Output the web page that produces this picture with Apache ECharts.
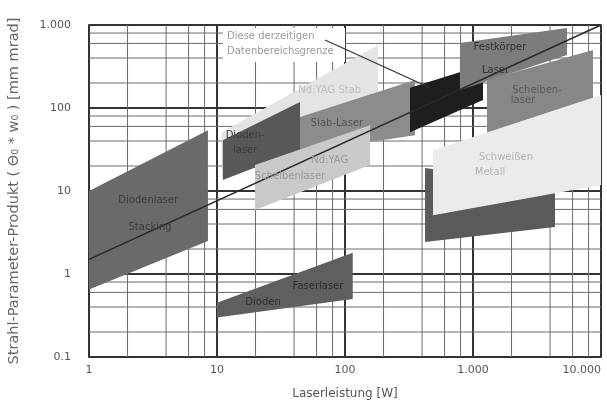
<!DOCTYPE html>
<html>
<head>
<meta charset="utf-8">
<script src="https://cdn.jsdelivr.net/npm/echarts@6/dist/echarts.min.js"></script>
<style>html,body{margin:0;padding:0;background:#fff}#c{width:607px;height:404px}</style>
</head>
<body>
<div id="c"></div>
<script>
// ---- data (values in axis units: x = laser power [W], y = BPP [mm mrad]) ----
const xTickLabels = ['1', '10', '100', '1.000', '10.000'];
const yTickLabels = ['0.1', '1', '10', '100', '1.000'];
const minorMultiples = [2, 4, 6, 8];

const regionDiodeStack   = [[1, 10], [8.5, 54], [8.5, 2.5], [1, 0.65]];
const regionFiberSmall   = [[10, 0.45], [115, 1.8], [115, 0.5], [10, 0.3]];
const regionRodLight     = [[10.9, 51], [181, 574], [181, 94.5], [10.9, 17.9]];
const regionDiodeMid     = [[11.1, 41], [44.5, 118], [44.5, 31], [11.1, 13.6]];
const regionSlab         = [[44.5, 78], [352, 217], [352, 47], [44.5, 29]];
const regionDisk         = [[19.8, 20.6], [157, 62], [157, 20.6], [19.8, 5.9]];
const regionBlack        = [[322, 175], [1197, 330], [1197, 125], [322, 51]];
const regionSolidTop     = [[791, 607], [5420, 920], [5420, 435], [791, 165]];
const regionFiberRight   = [[1286, 217], [8660, 500], [8660, 125], [1286, 45]];
const regionDiodeHigh    = [[422, 18.9], [4372, 11.5], [4372, 3.68], [422, 2.43]];
const regionWeldLight    = [[487, 31], [10000, 143], [10000, 11.8], [487, 5.1]];

const trendLine      = [[1, 1.5], [10000, 1000]];
const annotationLine = [[69.8, 660], [461, 175]];

const labelTexts  = ['Diodenlaser', 'Stacking', 'Dioden', 'Faserlaser', 'Nd:YAG Stab', 'Dioden-', 'laser',
                     'Slab-Laser', 'Nd:YAG', 'Scheibenlaser', 'Festkörper', 'Laser', 'Scheiben-', 'laser',
                     'Schweißen', 'Metall'];
const labelX      = [2.9, 3.0, 22.9, 61.5, 76, 16.6, 16.6, 86.6, 76, 37.2, 1625, 1500, 3162, 2456, 1811, 1358];
const labelY      = [7.8, 3.6, 0.45, 0.7, 165, 47, 31, 66, 23.6, 15.2, 543, 287, 165, 125, 25.7, 16.9];

// ---- styles ----
const regions = [
  {pts: regionDiodeStack, color: '#6a6a6a'},
  {pts: regionFiberSmall, color: '#5f5f5f'},
  {pts: regionRodLight, color: '#e4e4e4'},
  {pts: regionDiodeMid, color: '#585858'},
  {pts: regionSlab, color: '#8c8c8c'},
  {pts: regionDisk, color: '#c9c9c9'},
  {pts: regionBlack, color: '#1e1e1e'},
  {pts: regionSolidTop, color: '#7c7c7c'},
  {pts: regionFiberRight, color: '#878787'},
  {pts: regionDiodeHigh, color: '#5a5a5a'},
  {pts: regionWeldLight, color: '#ebebeb'}
];
const labelColors = ['#3a3a3a', '#3a3a3a', '#2e2e2e', '#2e2e2e', '#bdbdbd', '#3c3c3c', '#3c3c3c',
                     '#555', '#999', '#999', '#333', '#333', '#5a5a5a', '#5a5a5a', '#b3b3b3', '#b3b3b3'];

const xMin = 1, xMax = 10000, yMin = 0.1, yMax = 1000;
const xMinor = [], yMinor = [];
for (let d = xMin; d < xMax; d *= 10) minorMultiples.forEach(m => xMinor.push(d * m));
for (let d = yMin; d < yMax * 0.99; d *= 10) minorMultiples.forEach(m => yMinor.push(+(d * m).toPrecision(3)));

const font = '"DejaVu Sans", "Liberation Sans", Arial, sans-serif';
const chart = echarts.init(document.getElementById('c'));

chart.setOption({
  animation: false,
  backgroundColor: '#fff',
  grid: {left: 89, right: 6, top: 25, bottom: 47, containLabel: false, outerBoundsMode: 'none',
         show: true, borderColor: '#333', borderWidth: 1.5, backgroundColor: 'transparent'},
  xAxis: {
    type: 'log', logBase: 10, min: xMin, max: xMax,
    name: 'Laserleistung [W]', nameLocation: 'middle', nameGap: 31,
    nameTextStyle: {fontFamily: font, fontSize: 12, color: '#555'},
    axisLine: {lineStyle: {color: '#333', width: 1.5}},
    axisTick: {show: false},
    axisLabel: {fontFamily: font, fontSize: 11, color: '#555', margin: 8, alignMaxLabel: 'right',
      formatter: v => xTickLabels[Math.round(Math.log10(v))]},
    splitLine: {show: true, lineStyle: {color: '#333', width: 2}}
  },
  yAxis: {
    type: 'log', logBase: 10, min: yMin, max: yMax,
    name: 'Strahl-Parameter-Produkt ( Θ₀ * w₀ ) [mm mrad]', nameLocation: 'middle', nameGap: 67,
    nameTextStyle: {fontFamily: font, fontSize: 14.5, color: '#666'},
    axisLine: {lineStyle: {color: '#333', width: 1.5}},
    axisTick: {show: false},
    axisLabel: {fontFamily: font, fontSize: 11, color: '#555', margin: 18,
      formatter: v => yTickLabels[Math.round(Math.log10(v)) + 1]},
    splitLine: {show: true, lineStyle: {color: '#333', width: 2}}
  },
  series: [
    {
      type: 'custom', z: 1, silent: true,
      data: xMinor.map(v => [v]),
      renderItem: (params, api) => {
        const p1 = api.coord([api.value(0), yMin]);
        const p2 = api.coord([api.value(0), yMax]);
        return {type: 'line', shape: {x1: p1[0], y1: p1[1], x2: p2[0], y2: p2[1]},
                style: {stroke: '#6a6a6a', lineWidth: 1}};
      }
    },
    {
      type: 'custom', z: 1, silent: true,
      data: yMinor.map(v => [xMin, v]),
      renderItem: (params, api) => {
        const p1 = api.coord([xMin, api.value(1)]);
        const p2 = api.coord([xMax, api.value(1)]);
        return {type: 'line', shape: {x1: p1[0], y1: p1[1], x2: p2[0], y2: p2[1]},
                style: {stroke: '#6a6a6a', lineWidth: 1}};
      }
    },
    {
      type: 'custom', z: 2, silent: true,
      data: regions.map((r, i) => [i]),
      renderItem: (params, api) => {
        const r = regions[params.dataIndex];
        return {type: 'polygon', shape: {points: r.pts.map(p => api.coord(p))},
                style: {fill: r.color, stroke: null}};
      }
    },
    {
      type: 'line', z: 4, silent: true, symbol: 'none', data: trendLine,
      lineStyle: {color: '#2a2a2a', width: 1.5}
    },
    {
      type: 'line', z: 4, silent: true, symbol: 'none', data: annotationLine,
      lineStyle: {color: '#333', width: 1.2}
    },
    {
      type: 'custom', z: 5, silent: true,
      data: labelTexts.map((t, i) => [labelX[i], labelY[i]]),
      renderItem: (params, api) => {
        const p = api.coord([api.value(0), api.value(1)]);
        return {type: 'text', x: p[0], y: p[1],
                style: {text: labelTexts[params.dataIndex], fill: labelColors[params.dataIndex],
                        font: '10px ' + font, align: 'center', verticalAlign: 'middle'}};
      }
    }
  ],
  graphic: [
    {type: 'rect', left: 223, top: 28, shape: {width: 122, height: 34}, style: {fill: '#fff'}, z: 3},
    {type: 'text', left: 227, top: 31, style: {text: 'Diese derzeitigen', fill: '#9a9a9a', font: '10px ' + font}, z: 11},
    {type: 'text', left: 227, top: 46, style: {text: 'Datenbereichsgrenze', fill: '#9a9a9a', font: '10px ' + font}, z: 11}
  ]
});
</script>
</body>
</html>
